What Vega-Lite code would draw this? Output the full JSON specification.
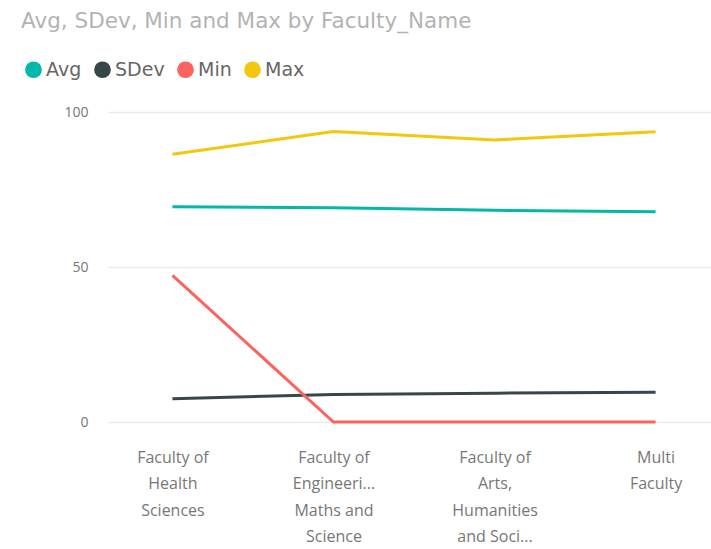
{
  "$schema": "https://vega.github.io/schema/vega-lite/v6.json",
  "autosize": {"type": "none"},
  "width": 612,
  "height": 310,
  "padding": {"left": 108, "top": 112, "right": -9, "bottom": 127},
  "background": "white",
  "title": {
    "text": "Avg, SDev, Min and Max by Faculty_Name",
    "anchor": "start",
    "frame": "group",
    "dx": -87,
    "dy": -28,
    "font": "DejaVu Sans",
    "fontSize": 21.5,
    "fontWeight": "normal",
    "color": "#b3b3b3",
    "baseline": "top",
    "offset": 0
  },
  "config": {
    "view": {"stroke": null},
    "font": "Open Sans"
  },
  "data": {
    "values": [
      {"Faculty": "Faculty of Health Sciences", "Measure": "Avg", "Value": 69.4},
      {"Faculty": "Faculty of Engineering, Maths and Science", "Measure": "Avg", "Value": 69.1},
      {"Faculty": "Faculty of Arts, Humanities and Social Sciences", "Measure": "Avg", "Value": 68.3},
      {"Faculty": "Multi Faculty", "Measure": "Avg", "Value": 67.8},
      {"Faculty": "Faculty of Health Sciences", "Measure": "SDev", "Value": 7.5},
      {"Faculty": "Faculty of Engineering, Maths and Science", "Measure": "SDev", "Value": 8.9},
      {"Faculty": "Faculty of Arts, Humanities and Social Sciences", "Measure": "SDev", "Value": 9.3},
      {"Faculty": "Multi Faculty", "Measure": "SDev", "Value": 9.6},
      {"Faculty": "Faculty of Health Sciences", "Measure": "Min", "Value": 47.3},
      {"Faculty": "Faculty of Engineering, Maths and Science", "Measure": "Min", "Value": 0},
      {"Faculty": "Faculty of Arts, Humanities and Social Sciences", "Measure": "Min", "Value": 0},
      {"Faculty": "Multi Faculty", "Measure": "Min", "Value": 0},
      {"Faculty": "Faculty of Health Sciences", "Measure": "Max", "Value": 86.4},
      {"Faculty": "Faculty of Engineering, Maths and Science", "Measure": "Max", "Value": 93.7},
      {"Faculty": "Faculty of Arts, Humanities and Social Sciences", "Measure": "Max", "Value": 91.0},
      {"Faculty": "Multi Faculty", "Measure": "Max", "Value": 93.6}
    ]
  },
  "mark": {"type": "line", "strokeWidth": 3},
  "encoding": {
    "x": {
      "field": "Faculty",
      "type": "nominal",
      "sort": null,
      "scale": {"type": "point", "padding": 0.4},
      "axis": {
        "title": null,
        "domain": false,
        "ticks": false,
        "labelAngle": 0,
        "labelAlign": "center",
        "labelBaseline": "top",
        "labelFontSize": 16,
        "labelColor": "#777777",
        "labelPadding": 27,
        "labelLineHeight": 26.5,
        "labelLimit": 0,
        "labelExpr": "datum.label == 'Faculty of Health Sciences' ? ['Faculty of', 'Health', 'Sciences'] : datum.label == 'Faculty of Engineering, Maths and Science' ? ['Faculty of', 'Engineeri...', 'Maths and', 'Science'] : datum.label == 'Faculty of Arts, Humanities and Social Sciences' ? ['Faculty of', 'Arts,', 'Humanities', 'and Soci...'] : ['Multi', 'Faculty']"
      }
    },
    "y": {
      "field": "Value",
      "type": "quantitative",
      "scale": {"domain": [0, 100], "nice": false},
      "axis": {
        "title": null,
        "domain": false,
        "ticks": false,
        "values": [0, 50, 100],
        "labelFontSize": 14,
        "labelColor": "#777777",
        "labelPadding": 20,
        "gridColor": "#eaeaea",
        "gridWidth": 1.5
      }
    },
    "color": {
      "field": "Measure",
      "type": "nominal",
      "sort": ["Avg", "SDev", "Min", "Max"],
      "scale": {"domain": ["Avg", "SDev", "Min", "Max"], "range": ["#01B8AA", "#374649", "#FD625E", "#F2C80F"]},
      "legend": {
        "title": null,
        "orient": "none",
        "legendX": -84,
        "legendY": -52,
        "direction": "horizontal",
        "symbolType": "circle",
        "symbolSize": 280,
        "symbolStrokeWidth": 0,
        "labelFont": "DejaVu Sans",
        "labelFontSize": 19,
        "labelColor": "#666666",
        "labelOffset": 3,
        "columnPadding": 11,
        "encode": {
          "symbols": {"update": {"fill": {"scale": "color", "field": "value"}, "fillOpacity": {"value": 1}}}
        }
      }
    }
  }
}
